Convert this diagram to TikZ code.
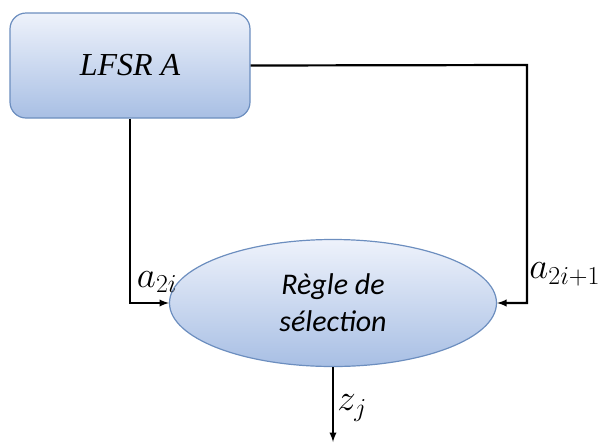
\RequirePackage{fix-cm}
\documentclass[tikz,border=0pt]{standalone}
\usepackage{fontspec}
\setmainfont{Carlito}
\newfontfamily\serifit{Liberation Serif}
\usetikzlibrary{shapes.geometric}
\definecolor{boxtop}{HTML}{EEF2FB}
\definecolor{boxbot}{HTML}{A8BFE4}
\definecolor{boxline}{HTML}{6C8EBF}
\begin{document}
\begin{tikzpicture}[>=latex,x=1pt,y=-1pt]
	\tikzset{
		bloc/.style={draw=boxline,line width=1.2pt,top color=boxtop,bottom color=boxbot,inner sep=0pt},
		fil/.style={line width=2.2pt,->},
		etiq/.style={font=\fontsize{37}{40}\selectfont}
	}
	\useasboundingbox (0,0) rectangle (607,445);

	% blocs
	\node[bloc,rounded corners=16pt,minimum width=240pt,minimum height=105pt,font=\fontsize{32}{36}\selectfont\serifit\itshape] (lfsr) at (130,65.5)
		{LFSR A};
	\node[bloc,ellipse,minimum width=327pt,minimum height=127pt,align=center,font=\fontsize{30}{37}\selectfont\itshape] (regle) at (333,303)
		{R\`egle de\\ s\'election};
	\coordinate (droite) at (527,65);
	\coordinate (sortie) at (333,442);

	% liaisons
	\draw[fil] (lfsr.south) |- (regle.west) node[etiq,pos=.86,above,xshift=-1pt,yshift=6pt]{$a_{2i}$};
	\draw[fil] (lfsr.east) -- (droite) |- (regle.east) node[etiq,pos=.44,right,xshift=-2pt]{$a_{2i+1}$};
	\draw[fil] (regle.south) -- (sortie) node[etiq,pos=.55,right]{$z_j$};
\end{tikzpicture}
\end{document}
